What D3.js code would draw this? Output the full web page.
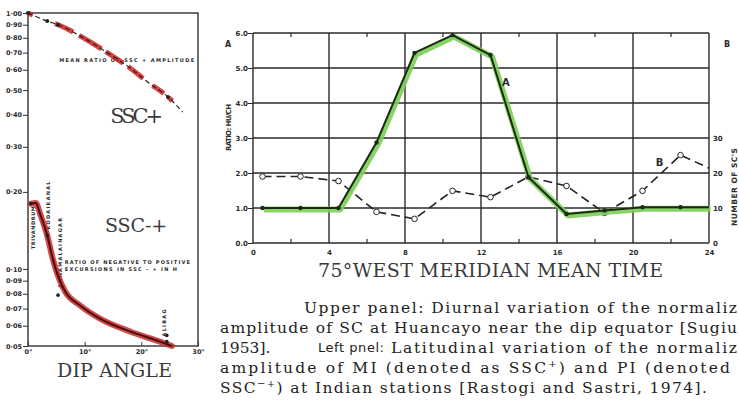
<!DOCTYPE html>
<html>
<head>
<meta charset="utf-8">
<script src="https://cdn.jsdelivr.net/npm/d3@7"></script>
<style>
  body { margin: 0; background: #fff; }
  svg { display: block; }
  .tick-lab { font-family: 'DejaVu Sans', sans-serif; font-weight: bold; fill: #2a2a2a; }
  .mono { font-family: 'DejaVu Serif', serif; fill: #3a3a3a; }
  .cap { font-family: 'DejaVu Serif', serif; font-size: 15.5px; fill: #222; }
</style>
</head>
<body>
<svg id="chart" width="739" height="407"></svg>
<script>
// ---- left panel: latitudinal variation ----
let plusDip = [0, 3.4, 5.3, 10.6, 12.7, 15.3, 18, 21, 24.7, 27.3]
let plusRatio = [1.00, 0.93, 0.90, 0.78, 0.73, 0.67, 0.61, 0.54, 0.47, 0.41]
let plusDots = [0, 1, 2, 8]

let minusDip = [0.5, 1.4, 2.1, 3.4, 4.4, 5.3, 6.5, 9.2, 12.7, 18, 23.3, 25.4]
let minusRatio = [0.18, 0.181, 0.165, 0.135, 0.109, 0.094, 0.082, 0.072, 0.064, 0.057, 0.052, 0.050]
let minusDotDip = [0.5, 3.4, 5.3, 24.5, 24.5]
let minusDotRatio = [0.18, 0.135, 0.079, 0.055, 0.052]

let stations = ['TRIVANDRUM', 'KODAIKANAL', 'ANNAMALAINAGAR', 'ALIBAG']
let stationDip = [0.9, 3.6, 5.6, 24.0]
let stationRatio = [0.145, 0.177, 0.1155, 0.0615]

let leftYTicks = [1.00, 0.90, 0.80, 0.70, 0.60, 0.50, 0.40, 0.30, 0.20, 0.10, 0.09, 0.08, 0.07, 0.06, 0.05]
let leftXTicks = [0, 10, 20, 30]

// ---- right panel: diurnal variation at Huancayo ----
let hours = [0.5, 2.5, 4.5, 6.5, 8.5, 10.5, 12.5, 14.5, 16.5, 18.5, 20.5, 22.5, 24]
let ratioA = [1.0, 1.0, 1.0, 2.87, 5.43, 5.94, 5.37, 1.88, 0.83, 0.93, 1.02, 1.02, 1.02]
let countB = [19, 19, 17.7, 8.9, 6.9, 14.9, 13.1, 18.9, 16.3, 8.6, 14.9, 25.1, 21.4]

let hourTicks = [0, 4, 8, 12, 16, 20, 24]
let hourMinor = [2, 6, 10, 14, 18, 22]
let ratioTicks = [0, 1, 2, 3, 4, 5, 6]
let countTicks = [0, 10, 20, 30]

let svg = d3.select('#chart')

// ================= LEFT PANEL =================
let xL = d3.scaleLinear().domain([0, 30]).range([28, 198])
let yL = d3.scaleLog().domain([0.05, 1]).range([346, 13])

let left = svg.append('g')

left.append('rect')
    .attr('x', xL(0)).attr('y', yL(1))
    .attr('width', xL(30) - xL(0)).attr('height', yL(0.05) - yL(1))
    .attr('fill', 'none').attr('stroke', '#222').attr('stroke-width', 1.3)

let fmtL = d3.format('.2f')
left.append('g')
    .attr('transform', 'translate(' + xL(0) + ',0)')
    .call(d3.axisLeft(yL).tickValues(leftYTicks).tickSize(5)
        .tickFormat(d => fmtL(d).replace('.', '·')))
    .call(g => g.select('.domain').remove())
    .call(g => g.selectAll('line').attr('stroke', '#333'))
    .call(g => g.selectAll('text').attr('class', 'tick-lab').style('font-size', '6.5px').attr('x', -6))

left.append('g')
    .attr('transform', 'translate(0,' + yL(0.05) + ')')
    .call(d3.axisBottom(xL).tickValues(leftXTicks).tickSize(-4).tickFormat(d => d + '°'))
    .call(g => g.select('.domain').remove())
    .call(g => g.selectAll('line').attr('stroke', '#333'))
    .call(g => g.selectAll('text').attr('class', 'tick-lab').style('font-size', '6.5px').attr('y', 3))

// small labels
left.append('text').attr('class', 'tick-lab')
    .attr('x', xL(5.5)).attr('y', yL(0.645))
    .attr('textLength', 135).style('font-size', '5px')
    .text('MEAN RATIO OF SSC + AMPLITUDE')
left.append('text').attr('class', 'tick-lab')
    .attr('x', xL(6.5)).attr('y', yL(0.1045))
    .attr('textLength', 125).style('font-size', '5px')
    .text('RATIO OF NEGATIVE TO POSITIVE')
left.append('text').attr('class', 'tick-lab')
    .attr('x', xL(6.5)).attr('y', yL(0.0985))
    .attr('textLength', 112).style('font-size', '5px')
    .text('EXCURSIONS IN SSC - + IN H')

let stLen = [43, 48, 70, 27]
stations.forEach((s, i) => {
    left.append('text').attr('class', 'tick-lab')
        .attr('transform', 'translate(' + (xL(stationDip[i]) + 2) + ',' + yL(stationRatio[i]) + ') rotate(-90)')
        .attr('text-anchor', 'middle')
        .attr('textLength', stLen[i])
        .style('font-size', '5px')
        .text(s)
})

left.append('text').attr('class', 'mono')
    .attr('x', xL(14.5)).attr('y', yL(0.372))
    .attr('textLength', 53).style('font-size', '21px')
    .text('SSC+')
left.append('text').attr('class', 'mono')
    .attr('x', xL(13.6)).attr('y', yL(0.14))
    .attr('textLength', 62).style('font-size', '19px')
    .text('SSC-+')
left.append('text').attr('class', 'mono')
    .attr('x', 57).attr('y', 377)
    .attr('textLength', 115).style('font-size', '19px')
    .text('DIP ANGLE')

// SSC+ curve
let plusPts = plusDip.map((d, i) => [d, plusRatio[i]])
let lineL = d3.line().x(d => xL(d[0])).y(d => yL(d[1])).curve(d3.curveMonotoneX)

left.append('path')
    .attr('d', lineL(plusPts))
    .attr('fill', 'none').attr('stroke', '#d11f1f').attr('stroke-width', 5)
    .attr('stroke-opacity', 0.85)
    .attr('stroke-dasharray', '5,24,20,7,26,5,21,6,19,12,14,6')
left.append('path')
    .attr('d', lineL(plusPts))
    .attr('fill', 'none').attr('stroke', '#222').attr('stroke-width', 1.2)
    .attr('stroke-dasharray', '5,3')
left.selectAll('circle.plus')
    .data(plusDots)
    .enter().append('circle')
    .attr('class', 'plus')
    .attr('cx', i => xL(plusDip[i])).attr('cy', i => yL(plusRatio[i]))
    .attr('r', 2).attr('fill', '#222')

// SSC-+ curve
let minusPts = minusDip.map((d, i) => [d, minusRatio[i]])
left.append('path')
    .attr('d', lineL(minusPts))
    .attr('fill', 'none').attr('stroke', '#c92a2a').attr('stroke-width', 6)
    .attr('stroke-opacity', 0.85).attr('stroke-linecap', 'round')
left.append('path')
    .attr('d', lineL(minusPts))
    .attr('fill', 'none').attr('stroke', '#4a0c0c').attr('stroke-width', 2)
left.selectAll('circle.minus')
    .data(minusDotDip)
    .enter().append('circle')
    .attr('class', 'minus')
    .attr('cx', d => xL(d)).attr('cy', (d, i) => yL(minusDotRatio[i]))
    .attr('r', 1.8).attr('fill', '#222')

// ================= RIGHT PANEL =================
let xR = d3.scaleLinear().domain([0, 24]).range([253, 709])
let yA = d3.scaleLinear().domain([0, 6]).range([243, 33])
let yB = d3.scaleLinear().domain([0, 60]).range([243, 33])

let right = svg.append('g')

// grid
right.selectAll('line.hgrid')
    .data(ratioTicks)
    .enter().append('line')
    .attr('class', 'hgrid')
    .attr('x1', xR(0)).attr('x2', xR(24))
    .attr('y1', d => yA(d)).attr('y2', d => yA(d))
    .attr('stroke', '#2a2a2a').attr('stroke-width', 1.4)
right.selectAll('line.vgrid')
    .data(hourTicks)
    .enter().append('line')
    .attr('class', 'vgrid')
    .attr('x1', d => xR(d)).attr('x2', d => xR(d))
    .attr('y1', yA(0)).attr('y2', yA(6))
    .attr('stroke', '#2a2a2a').attr('stroke-width', 1.4)
right.selectAll('line.minor')
    .data(hourMinor.flatMap(h => [[h, 0], [h, 6]]))
    .enter().append('line')
    .attr('class', 'minor')
    .attr('x1', d => xR(d[0])).attr('x2', d => xR(d[0]))
    .attr('y1', d => yA(d[1])).attr('y2', d => yA(d[1]) + (d[1] === 0 ? -4 : 4))
    .attr('stroke', '#2a2a2a').attr('stroke-width', 1.2)

right.append('g')
    .attr('transform', 'translate(' + xR(0) + ',0)')
    .call(d3.axisLeft(yA).tickValues(ratioTicks).tickSize(5).tickFormat(d3.format('.1f')))
    .call(g => g.select('.domain').remove())
    .call(g => g.selectAll('line').attr('stroke', '#2a2a2a'))
    .call(g => g.selectAll('text').attr('class', 'tick-lab').style('font-size', '7px').attr('x', -5))

right.append('g')
    .attr('transform', 'translate(0,' + yA(0) + ')')
    .call(d3.axisBottom(xR).tickValues(hourTicks).tickSize(0))
    .call(g => g.select('.domain').remove())
    .call(g => g.selectAll('text').attr('class', 'tick-lab').style('font-size', '7px').attr('y', 7))

right.append('g')
    .attr('transform', 'translate(' + xR(24) + ',0)')
    .call(d3.axisRight(yB).tickValues(countTicks).tickSize(0))
    .call(g => g.select('.domain').remove())
    .call(g => g.selectAll('text').attr('class', 'tick-lab').style('font-size', '7px').attr('x', 4))

right.append('text').attr('class', 'tick-lab')
    .attr('transform', 'translate(231,' + yA(3.3) + ') rotate(-90)')
    .attr('text-anchor', 'middle').attr('textLength', 47)
    .style('font-size', '7px').text('RATIO: HU/CH')
right.append('text').attr('class', 'tick-lab')
    .attr('transform', 'translate(737,' + yB(16) + ') rotate(-90)')
    .attr('text-anchor', 'middle').attr('textLength', 78)
    .style('font-size', '7.5px').text("NUMBER OF SC'S")
right.append('text').attr('class', 'tick-lab')
    .attr('x', 225).attr('y', yA(5.6)).style('font-size', '8px').text('A')
right.append('text').attr('class', 'tick-lab')
    .attr('x', 724).attr('y', yA(5.6)).style('font-size', '8px').text('B')

right.append('text').attr('class', 'mono')
    .attr('x', 318).attr('y', 277)
    .attr('textLength', 345).style('font-size', '19px')
    .text('75°WEST MERIDIAN MEAN TIME')

// curve B (dashed, open circles)
let ptsB = hours.map((h, i) => [h, countB[i]])
right.append('path')
    .attr('d', d3.line().x(d => xR(d[0])).y(d => yB(d[1]))(ptsB))
    .attr('fill', 'none').attr('stroke', '#222').attr('stroke-width', 1.6)
    .attr('stroke-dasharray', '9,5')
right.selectAll('circle.b')
    .data(ptsB.slice(0, -1))
    .enter().append('circle')
    .attr('class', 'b')
    .attr('cx', d => xR(d[0])).attr('cy', d => yB(d[1]))
    .attr('r', 2.8).attr('fill', '#fff').attr('stroke', '#222').attr('stroke-width', 1)

// curve A (green highlight + black)
let ptsA = hours.map((h, i) => [h, ratioA[i]])
let lineA = d3.line().x(d => xR(d[0])).y(d => yA(d[1]))
right.append('path')
    .attr('d', lineA(ptsA))
    .attr('transform', 'translate(1.5,1.5)')
    .attr('fill', 'none').attr('stroke', '#7cce55').attr('stroke-width', 6)
    .attr('stroke-opacity', 0.9).attr('stroke-linejoin', 'round')
right.append('path')
    .attr('d', lineA(ptsA))
    .attr('fill', 'none').attr('stroke', '#1b2a14').attr('stroke-width', 2)
    .attr('stroke-linejoin', 'round')
right.selectAll('circle.a')
    .data(ptsA.slice(0, -1))
    .enter().append('circle')
    .attr('class', 'a')
    .attr('cx', d => xR(d[0])).attr('cy', d => yA(d[1]))
    .attr('r', 2.2).attr('fill', '#1b2a14')

right.append('text').attr('class', 'tick-lab')
    .attr('x', xR(13.1)).attr('y', yA(4.5)).style('font-size', '10px').text('A')
right.append('text').attr('class', 'tick-lab')
    .attr('x', xR(21.2)).attr('y', yB(22)).style('font-size', '10px').text('B')

// ================= CAPTION =================
let cap = svg.append('g')
cap.append('text').attr('class', 'cap')
    .attr('x', 304).attr('y', 313).attr('textLength', 433)
    .text('Upper panel: Diurnal variation of the normaliz')
cap.append('text').attr('class', 'cap')
    .attr('x', 220).attr('y', 333).attr('textLength', 517)
    .text('amplitude of SC at Huancayo near the dip equator [Sugiu')
cap.append('text').attr('class', 'cap')
    .attr('x', 220).attr('y', 353)
    .text('1953].')
cap.append('text')
    .attr('x', 318).attr('y', 352)
    .attr('textLength', 66)
    .style('font-family', "'DejaVu Sans', sans-serif").style('font-size', '13px').style('fill', '#222')
    .text('Left pnel:')
cap.append('text').attr('class', 'cap')
    .attr('x', 391).attr('y', 353).attr('textLength', 346)
    .text('Latitudinal variation of the normaliz')

let l4 = cap.append('text').attr('class', 'cap')
    .attr('x', 220).attr('y', 373).attr('textLength', 510)
l4.append('tspan').text('amplitude of MI (denoted as SSC')
l4.append('tspan').attr('dy', -6).style('font-size', '10px').text('+')
l4.append('tspan').attr('dy', 6).text(') and PI (denoted')

let l5 = cap.append('text').attr('class', 'cap')
    .attr('x', 220).attr('y', 393).attr('textLength', 487)
l5.append('tspan').text('SSC')
l5.append('tspan').attr('dy', -6).style('font-size', '10px').text('−+')
l5.append('tspan').attr('dy', 6).text(') at Indian stations [Rastogi and Sastri, 1974].')
</script>
</body>
</html>
